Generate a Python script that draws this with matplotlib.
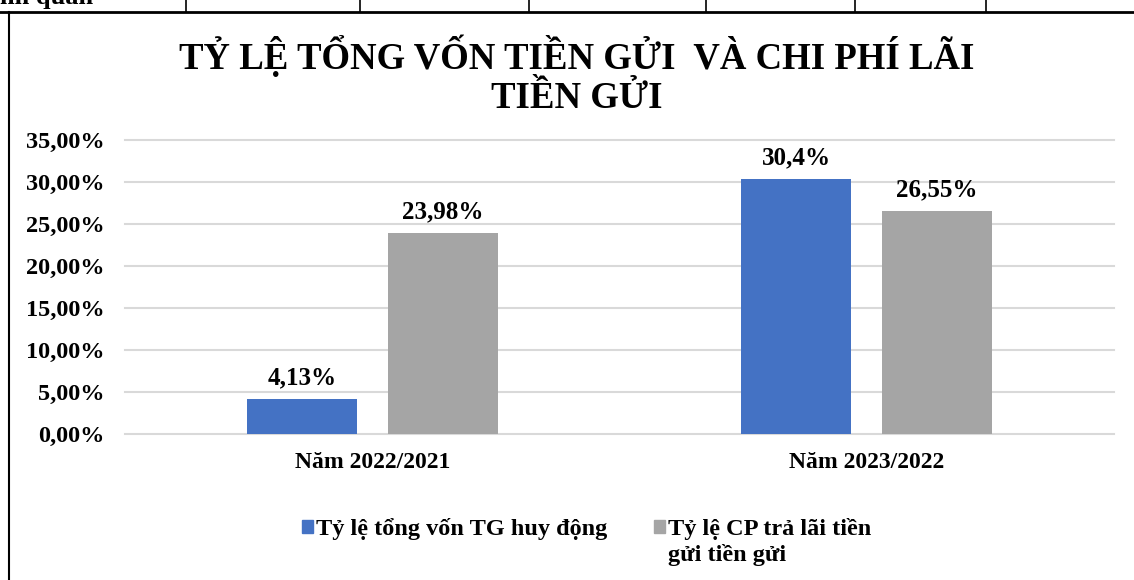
import numpy as np
import matplotlib
matplotlib.use('Agg')
import matplotlib.pyplot as plt
from matplotlib.lines import Line2D
from matplotlib.patches import Patch, Rectangle
from matplotlib.legend_handler import HandlerPatch

plt.rcParams['font.family'] = ['Liberation Serif', 'DejaVu Serif']
plt.rcParams['font.weight'] = 'bold'

# data
categories = ['Năm 2022/2021', 'Năm 2023/2022']
series_names = ['Tỷ lệ tổng vốn TG huy động\n', 'Tỷ lệ CP trả lãi tiền\ngửi tiền gửi']
von_tg = [4.13, 30.4]
cp_lai = [23.98, 26.55]
von_tg_labels = ['4,13%', '30,4%']
cp_lai_labels = ['23,98%', '26,55%']
y_ticks = [0, 5, 10, 15, 20, 25, 30, 35]

blue = '#4472c4'
grey = '#a5a5a5'

W, H = 1134, 580
fig = plt.figure(figsize=(W / 100, H / 100), dpi=100)

# page fragments around the chart (table border)
fig.add_artist(Line2D([0, 1], [1 - 12 / H, 1 - 12 / H], color='black', lw=2))
fig.add_artist(Line2D([9 / W, 9 / W], [0, 1 - 12 / H], color='black', lw=1.5))
for xv in [186, 360, 529, 706, 855, 986]:
    fig.add_artist(Line2D([xv / W, xv / W], [1 - 12 / H, 1], color='black', lw=1.2))
fig.text(0, 1 - 4 / H, 'nh quan', fontsize=19, va='baseline', ha='left')

ax = fig.add_axes([125 / W, 1 - 434 / H, 989 / W, 294 / H])

x = np.arange(len(categories))
bw = 0.2225
off = 0.1425
b1 = ax.bar(x - off, von_tg, bw, color=blue, zorder=3)
b2 = ax.bar(x + off, cp_lai, bw, color=grey, zorder=3)

for rect, lab in zip(b1, von_tg_labels):
    ax.annotate(lab, (rect.get_x() + rect.get_width() / 2, rect.get_height()),
                xytext=(0, 7), textcoords='offset points', ha='center', va='bottom',
                fontsize=18, fontweight='bold')
for rect, lab in zip(b2, cp_lai_labels):
    ax.annotate(lab, (rect.get_x() + rect.get_width() / 2, rect.get_height()),
                xytext=(0, 7), textcoords='offset points', ha='center', va='bottom',
                fontsize=18, fontweight='bold')

ax.set_xlim(-0.5, 1.5)
ax.set_ylim(0, 35)
ax.set_yticks(y_ticks)
ax.set_yticklabels([('%.2f%%' % v).replace('.', ',') for v in y_ticks])
ax.set_xticks(x)
ax.set_xticklabels(categories)
ax.tick_params(axis='y', length=0, pad=15, labelsize=17.5)
ax.tick_params(axis='x', length=0, pad=13, labelsize=17)
for s in ax.spines.values():
    s.set_visible(False)
ax.yaxis.grid(True, color='#d9d9d9', lw=1.5, zorder=0)
for gl in ax.get_ygridlines():
    gl.set_clip_on(False)

fig.text(577 / W, 1 - 56 / H, 'TỶ LỆ TỔNG VỐN TIỀN GỬI  VÀ CHI PHÍ LÃI',
         ha='center', va='center', fontsize=26.5, fontweight='bold')
fig.text(577 / W, 1 - 98 / H, 'TIỀN GỬI',
         ha='center', va='center', fontsize=26.5, fontweight='bold')


# legend squares sit beside the first line of each label
def top_square(legend, orig_handle, xdescent, ydescent, width, height, fontsize):
    return Rectangle((-xdescent, -ydescent + 0.62 * fontsize), width, height)


handles = [Patch(color=blue), Patch(color=grey)]
leg = fig.legend(handles, series_names, loc='upper left', bbox_to_anchor=(292 / W, 1 - 508 / H),
                 ncol=2, frameon=False, fontsize=17.5, handlelength=0.45, handleheight=0.45,
                 handletextpad=0.15, columnspacing=1.9, borderaxespad=0,
                 handler_map={Patch: HandlerPatch(patch_func=top_square)})
for t in leg.get_texts():
    t.set_linespacing(1.25)

fig.savefig('out.png', dpi=100)
